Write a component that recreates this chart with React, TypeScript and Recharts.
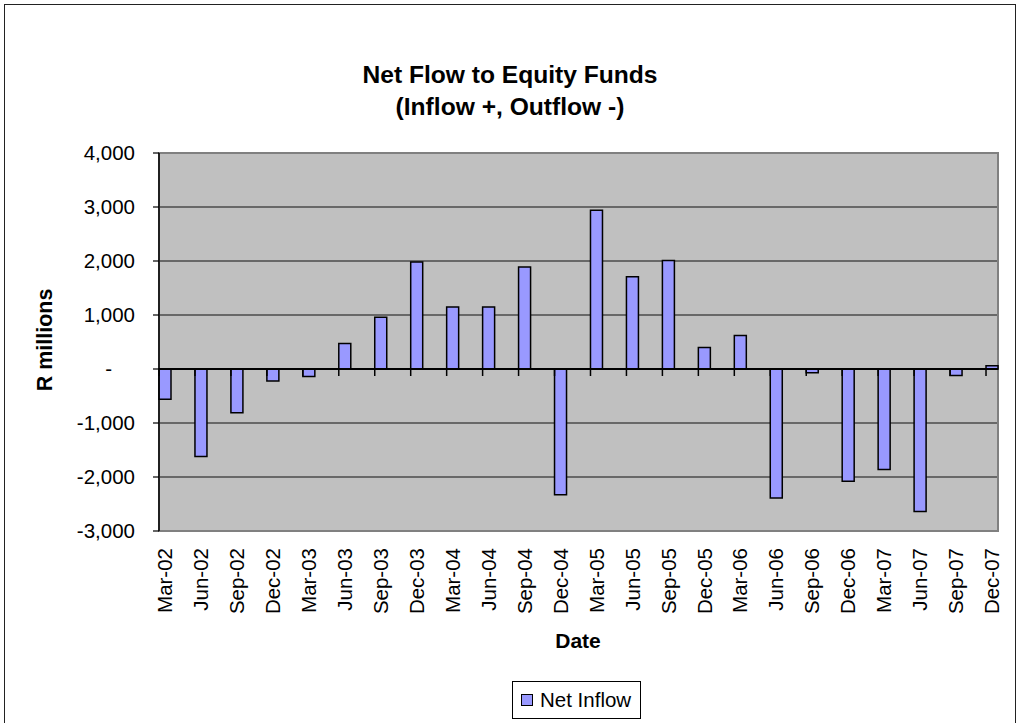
import { BarChart, Bar, XAxis, YAxis, CartesianGrid, ReferenceLine, ReferenceArea, Legend } from 'recharts';

const FONT = '"Liberation Sans", Arial, sans-serif';

// quarter-end dates, plotted on a monthly date axis (like Excel's date axis)
const quarters = [
  'Mar-02', 'Jun-02', 'Sep-02', 'Dec-02',
  'Mar-03', 'Jun-03', 'Sep-03', 'Dec-03',
  'Mar-04', 'Jun-04', 'Sep-04', 'Dec-04',
  'Mar-05', 'Jun-05', 'Sep-05', 'Dec-05',
  'Mar-06', 'Jun-06', 'Sep-06', 'Dec-06',
  'Mar-07', 'Jun-07', 'Sep-07', 'Dec-07',
];

// R millions
const netInflow = [
  -560, -1620, -810, -220,
  -140, 470, 960, 1980,
  1150, 1150, 1890, -2330,
  2940, 1710, 2010, 400,
  620, -2390, -70, -2080,
  -1860, -2640, -120, 60,
];

const yTicks = [-3000, -2000, -1000, 0, 1000, 2000, 3000, 4000];

const MONTHS = quarters.length * 3 - 2;

const monthly = Array.from({ length: MONTHS }, (_, m) => {
  const isQuarter = m % 3 === 0;
  return {
    m,
    label: isQuarter ? quarters[m / 3] : '',
    value: isQuarter ? netInflow[m / 3] : null,
  };
});

function MonthTick({ x, y, payload }: any) {
  const label = monthly[payload.value]?.label;
  if (!label) return null;
  return (
    <text
      x={x}
      y={y}
      dx={-17}
      dy="0.35em"
      transform={`rotate(-90, ${x}, ${y})`}
      textAnchor="end"
      fontFamily={FONT}
      fontSize={20.5}
      fill="#000"
    >
      {label}
    </text>
  );
}

function ValueTick({ x, y, payload }: any) {
  const v = payload.value as number;
  const text = v === 0 ? '-' : v.toLocaleString('en-US');
  return (
    <text
      x={v === 0 ? x - 23 : x}
      y={y}
      dy="0.35em"
      textAnchor="end"
      fontFamily={FONT}
      fontSize={20.5}
      fill="#000"
    >
      {text}
    </text>
  );
}

// zero line doubles as the category axis, with a tick at the start of each quarter month
function ZeroAxis(props: any) {
  const { x1, x2, y1 } = props;
  const band = (x2 - x1) / MONTHS;
  return (
    <g>
      <line x1={x1} x2={x2} y1={y1} y2={y1} stroke="#000" strokeWidth={2} />
      {quarters.map((q, i) => {
        const tx = x1 + i * 3 * band;
        return <line key={q} x1={tx} x2={tx} y1={y1} y2={y1 + 7} stroke="#000" strokeWidth={1.5} />;
      })}
    </g>
  );
}

function LegendBox() {
  return (
    <div
      style={{
        border: '1px solid #000',
        background: '#fff',
        width: 127,
        height: 36,
        display: 'flex',
        alignItems: 'center',
        fontFamily: FONT,
        fontSize: 20.5,
        color: '#000',
        boxSizing: 'content-box',
      }}
    >
      <span
        style={{
          display: 'inline-block',
          width: 10,
          height: 10,
          border: '1px solid #000',
          background: '#9999ff',
          marginLeft: 8,
          marginRight: 7,
        }}
      />
      <span>Net Inflow</span>
    </div>
  );
}

export default function App() {
  return (
    <div style={{ position: 'absolute', left: 0, top: 0, width: 1020, height: 723, background: '#fff', overflow: 'hidden' }}>
      <div
        style={{
          position: 'absolute',
          left: 4,
          top: 4,
          width: 1010,
          height: 800,
          border: '1.5px solid #222',
        }}
      />
      <div
        style={{
          position: 'absolute',
          left: 0,
          top: 59,
          width: 1020,
          textAlign: 'center',
          fontFamily: FONT,
          fontWeight: 'bold',
          fontSize: 24.6,
          lineHeight: '32px',
          color: '#000',
        }}
      >
        Net Flow to Equity Funds
        <br />
        (Inflow +, Outflow -)
      </div>
      <div
        style={{
          position: 'absolute',
          left: 45,
          top: 340,
          transform: 'translate(-50%, -50%) rotate(-90deg)',
          whiteSpace: 'nowrap',
          fontFamily: FONT,
          fontWeight: 'bold',
          fontSize: 21.5,
          color: '#000',
        }}
      >
        R millions
      </div>
      <div
        style={{
          position: 'absolute',
          left: 578,
          top: 641,
          transform: 'translate(-50%, -50%)',
          fontFamily: FONT,
          fontWeight: 'bold',
          fontSize: 21,
          color: '#000',
        }}
      >
        Date
      </div>
      <div style={{ position: 'absolute', left: 0, top: 0 }}>
        <BarChart
          width={1020}
          height={723}
          data={monthly}
          margin={{ top: 153, right: 22, left: 0, bottom: 0 }}
          barCategoryGap={0}
          barGap={0}
        >
          <CartesianGrid vertical={false} horizontal stroke="#111" strokeWidth={1.1} fill="#c0c0c0" fillOpacity={1} />
          <XAxis
            dataKey="m"
            type="category"
            interval={0}
            height={192}
            axisLine={false}
            tickLine={false}
            tickSize={0}
            tickMargin={0}
            tick={<MonthTick />}
          />
          <YAxis
            type="number"
            domain={[-3000, 4000]}
            ticks={yTicks}
            interval={0}
            width={159}
            axisLine={{ stroke: '#000', strokeWidth: 1.5 }}
            tickLine={{ stroke: '#000', strokeWidth: 1.2 }}
            tickSize={6}
            tickMargin={18}
            tick={<ValueTick />}
          />
          <ReferenceArea y1={-3000} y2={4000} fill="none" stroke="#808080" strokeWidth={2} ifOverflow="visible" />
          <Bar
            dataKey="value"
            name="Net Inflow"
            fill="#9999ff"
            stroke="#000"
            strokeWidth={1.5}
            isAnimationActive={false}
          />
          <ReferenceLine y={0} shape={<ZeroAxis />} ifOverflow="visible" />
          <Legend
            layout="vertical"
            align="center"
            verticalAlign="middle"
            content={<LegendBox />}
            wrapperStyle={{ position: 'absolute', left: 512, top: 681, width: 'auto', height: 'auto' }}
          />
        </BarChart>
      </div>
    </div>
  );
}
